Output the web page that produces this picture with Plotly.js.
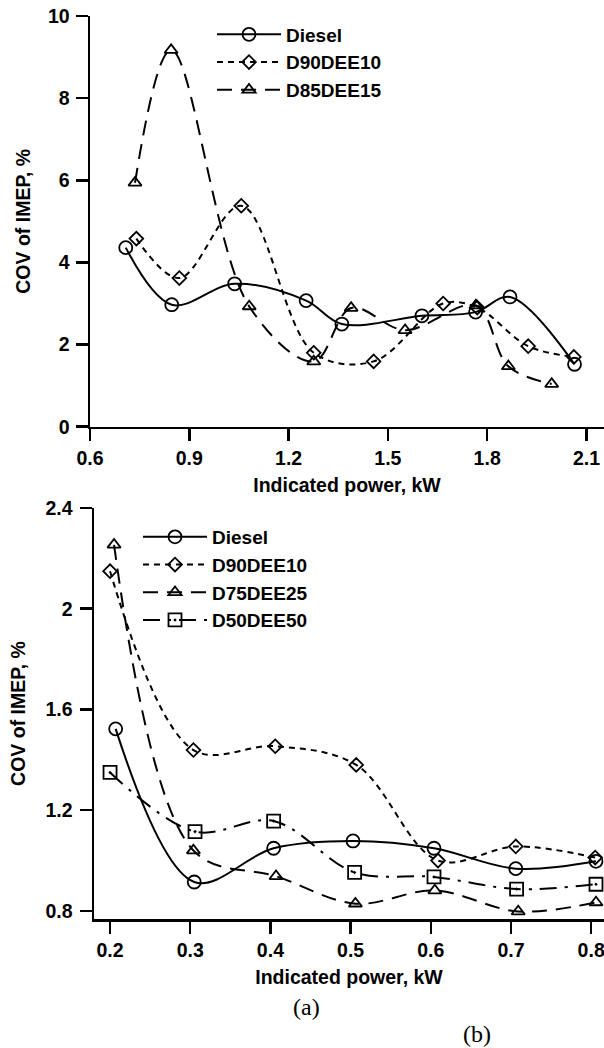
<!DOCTYPE html>
<html>
<head>
<meta charset="utf-8">
<script src="https://cdn.plot.ly/plotly-3.0.1.min.js"></script>
<style>html,body{margin:0;padding:0;background:#fff;}</style>
</head>
<body>
<div id="chart" style="width:604px;height:1048px;"></div>
<script>
// ---------- Panel (a): top chart ----------
const topSeriesNames = ["Diesel", "D90DEE10", "D85DEE15"];
const topDieselX = [0.708, 0.847, 1.037, 1.253, 1.361, 1.603, 1.765, 1.869, 2.064];
const topDieselY = [4.36, 2.97, 3.48, 3.07, 2.50, 2.70, 2.79, 3.16, 1.52];
const topD90X = [0.740, 0.870, 1.057, 1.276, 1.457, 1.667, 1.770, 1.924, 2.062];
const topD90Y = [4.58, 3.62, 5.38, 1.80, 1.59, 3.00, 2.90, 1.96, 1.70];
const topD85X = [0.736, 0.845, 1.081, 1.276, 1.389, 1.552, 1.766, 1.864, 1.995];
const topD85Y = [5.94, 9.17, 2.93, 1.59, 2.89, 2.35, 2.95, 1.47, 1.04];
const topXTicks = [0.6, 0.9, 1.2, 1.5, 1.8, 2.1];
const topXTickText = ["0.6", "0.9", "1.2", "1.5", "1.8", "2.1"];
const topYTicks = [0, 2, 4, 6, 8, 10];
const topYTickText = ["0", "2", "4", "6", "8", "10"];

// ---------- Panel (b): bottom chart ----------
const botSeriesNames = ["Diesel", "D90DEE10", "D75DEE25", "D50DEE50"];
const botDieselX = [0.207, 0.305, 0.404, 0.503, 0.604, 0.706, 0.806];
const botDieselY = [1.523, 0.915, 1.049, 1.078, 1.049, 0.968, 0.997];
const botD90X = [0.200, 0.304, 0.406, 0.507, 0.609, 0.706, 0.805];
const botD90Y = [2.149, 1.439, 1.454, 1.380, 1.000, 1.056, 1.012];
const botD75X = [0.205, 0.304, 0.407, 0.506, 0.605, 0.709, 0.806];
const botD75Y = [2.254, 1.040, 0.938, 0.829, 0.881, 0.798, 0.834];
const botD50X = [0.200, 0.306, 0.404, 0.505, 0.604, 0.707, 0.806];
const botD50Y = [1.350, 1.115, 1.157, 0.953, 0.935, 0.887, 0.906];
const botXTicks = [0.2, 0.3, 0.4, 0.5, 0.6, 0.7, 0.8];
const botXTickText = ["0.2", "0.3", "0.4", "0.5", "0.6", "0.7", "0.8"];
const botYTicks = [0.8, 1.2, 1.6, 2.0, 2.4];
const botYTickText = ["0.8", "1.2", "1.6", "2", "2.4"];

const xTitleText = "Indicated power, kW";
const yTitleText = "COV of IMEP, %";
const panelLabels = ["(a)", "(b)"];

// ---------- styles ----------
const FONT = "Arial, 'Liberation Sans', Helvetica, sans-serif";
const tickFont = {family: FONT, size: 19.5, color: "#000", weight: "bold"};
const titleFont = {family: FONT, size: 19.5, color: "#000", weight: "bold"};
const legendFont = {family: FONT, size: 19, color: "#000", weight: "bold"};
const serifFont = {family: "'Liberation Serif', 'Times New Roman', serif", size: 24, color: "#000"};
const black = "#000";

const styles = {
  Diesel:   {dash: "solid", symbol: "circle-open", size: 13},
  D90DEE10: {dash: "6px,5px", symbol: "diamond-open", size: 10.5},
  D85DEE15: {dash: "15px,9px", symbol: "triangle-up-open", size: 11.5},
  D75DEE25: {dash: "15px,9px", symbol: "triangle-up-open", size: 11.5},
  D50DEE50: {dash: "17px,8px,3px,8px", symbol: "square-open-dot", size: 13}
};

function mk(name, x, y, xa, ya, legend) {
  const s = styles[name];
  return {
    type: "scatter", mode: "lines+markers", name: name,
    x: x, y: y, xaxis: xa, yaxis: ya, legend: legend,
    line: {color: black, width: 2, dash: s.dash, shape: "spline", smoothing: 1},
    marker: {symbol: s.symbol, size: s.size, color: black, line: {color: black, width: 1.8}},
    cliponaxis: false
  };
}

const data = [
  mk(topSeriesNames[0], topDieselX, topDieselY, "x", "y", "legend"),
  mk(topSeriesNames[1], topD90X, topD90Y, "x", "y", "legend"),
  mk(topSeriesNames[2], topD85X, topD85Y, "x", "y", "legend"),
  mk(botSeriesNames[0], botDieselX, botDieselY, "x2", "y2", "legend2"),
  mk(botSeriesNames[1], botD90X, botD90Y, "x2", "y2", "legend2"),
  mk(botSeriesNames[2], botD75X, botD75Y, "x2", "y2", "legend2"),
  mk(botSeriesNames[3], botD50X, botD50Y, "x2", "y2", "legend2")
];

const W = 604, H = 1048;
function axisBase() {
  return {
    showline: true, linecolor: black, linewidth: 2.5,
    ticks: "outside", ticklen: 12, tickwidth: 2.5, tickcolor: black,
    showgrid: false, zeroline: false, tickfont: tickFont,
    automargin: false, fixedrange: true, ticklabeloverflow: "allow"
  };
}

const layout = {
  width: W, height: H,
  margin: {l: 0, r: 0, t: 0, b: 0, autoexpand: false},
  paper_bgcolor: "#fff", plot_bgcolor: "rgba(0,0,0,0)",
  showlegend: true,
  xaxis: Object.assign(axisBase(), {
    domain: [90 / W, 1], range: [0.6, 2.153], anchor: "y",
    tickvals: topXTicks, ticktext: topXTickText, ticklabelstandoff: 0,
    title: {text: xTitleText, font: titleFont, standoff: 11.5}
  }),
  yaxis: Object.assign(axisBase(), {
    domain: [1 - 426.7 / H, 1 - 16 / H], range: [0, 10], anchor: "x",
    tickvals: topYTicks, ticktext: topYTickText, ticklabelstandoff: 2,
    title: {text: yTitleText, font: titleFont, standoff: 12}
  }),
  xaxis2: Object.assign(axisBase(), {
    domain: [94 / W, 1], range: [0.18, 0.816], anchor: "y2",
    tickvals: botXTicks, ticktext: botXTickText, ticklabelstandoff: 0,
    title: {text: xTitleText, font: titleFont, standoff: 11}
  }),
  yaxis2: Object.assign(axisBase(), {
    domain: [1 - 919 / H, 1 - 508 / H], range: [0.768, 2.4], anchor: "x2",
    tickvals: botYTicks, ticktext: botYTickText, ticklabelstandoff: 3,
    title: {text: yTitleText, font: titleFont, standoff: 14.5}
  }),
  legend: {
    x: 212 / W, y: 1 - 15.5 / H, xanchor: "left", yanchor: "top",
    bgcolor: "rgba(0,0,0,0)", borderwidth: 0, font: legendFont,
    itemwidth: 64, tracegroupgap: 0
  },
  legend2: {
    x: 138 / W, y: 1 - 518 / H, xanchor: "left", yanchor: "top",
    bgcolor: "rgba(0,0,0,0)", borderwidth: 0, font: legendFont,
    itemwidth: 64, tracegroupgap: 0
  },
  annotations: [
    {text: panelLabels[0], xref: "paper", yref: "paper", x: 306 / W, y: 1 - 1007 / H,
     xanchor: "center", yanchor: "middle", showarrow: false, font: serifFont},
    {text: panelLabels[1], xref: "paper", yref: "paper", x: 476.5 / W, y: 1 - 1034 / H,
     xanchor: "center", yanchor: "middle", showarrow: false, font: serifFont}
  ]
};

Plotly.newPlot("chart", data, layout, {displayModeBar: false, staticPlot: true});
</script>
</body>
</html>
